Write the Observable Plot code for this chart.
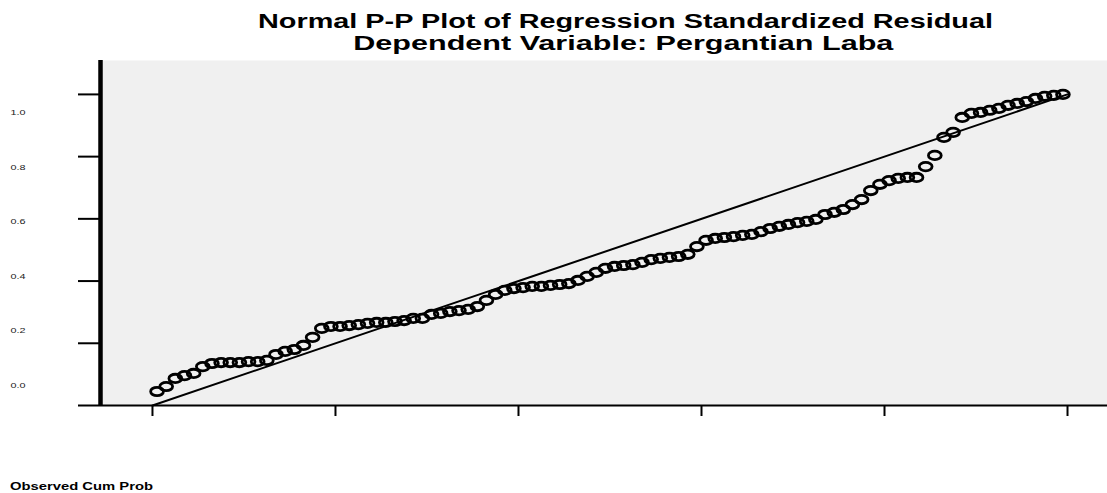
<!DOCTYPE html>
<html>
<head>
<meta charset="utf-8">
<script src="https://cdn.jsdelivr.net/npm/d3@7"></script>
<script src="https://cdn.jsdelivr.net/npm/@observablehq/plot@0.6"></script>
<style>
  html, body { margin: 0; padding: 0; background: #fff; }
  #wrap { position: relative; width: 1107px; height: 493px; overflow: hidden; font-family: "Liberation Sans", Arial, sans-serif; }
  .t { position: absolute; white-space: nowrap; font-weight: bold; color: #000; line-height: 1; }
  #chart { position: absolute; left: 0; top: 0; }
</style>
</head>
<body>
<div id="wrap">
  <div id="chart"></div>
  <div class="t" id="title1" style="font-size:19.5px; top:11.5px;">Normal P-P Plot of Regression Standardized Residual</div>
  <div class="t" id="title2" style="font-size:19.5px; top:33.5px;">Dependent Variable: Pergantian Laba</div>
  <div class="t" id="xlab" style="font-size:10.5px; top:481px; left:10px;">Observed Cum Prob</div>
</div>
<script>
// Observed cumulative probability (x) for each case
const observed = [
  0.005,0.015,0.025,0.035,0.045,0.055,0.065,0.075,0.085,0.095,
  0.105,0.115,0.125,0.135,0.145,0.155,0.165,0.175,0.185,0.195,
  0.205,0.215,0.225,0.235,0.245,0.255,0.265,0.275,0.285,0.295,
  0.305,0.315,0.325,0.335,0.345,0.355,0.365,0.375,0.385,0.395,
  0.405,0.415,0.425,0.435,0.445,0.455,0.465,0.475,0.485,0.495,
  0.505,0.515,0.525,0.535,0.545,0.555,0.565,0.575,0.585,0.595,
  0.605,0.615,0.625,0.635,0.645,0.655,0.665,0.675,0.685,0.695,
  0.705,0.715,0.725,0.735,0.745,0.755,0.765,0.775,0.785,0.795,
  0.805,0.815,0.825,0.835,0.845,0.855,0.865,0.875,0.885,0.895,
  0.905,0.915,0.925,0.935,0.945,0.955,0.965,0.975,0.985,0.995
];
// Expected cumulative probability (y)
const expected = [
  0.045,0.061,0.087,0.096,0.103,0.125,0.135,0.138,0.138,0.138,
  0.141,0.141,0.145,0.164,0.174,0.180,0.193,0.219,0.248,0.254,
  0.254,0.257,0.260,0.264,0.267,0.267,0.270,0.273,0.280,0.280,
  0.293,0.296,0.302,0.305,0.309,0.318,0.338,0.357,0.370,0.376,
  0.379,0.383,0.383,0.386,0.389,0.392,0.402,0.415,0.428,0.441,
  0.447,0.450,0.453,0.460,0.469,0.473,0.476,0.479,0.486,0.511,
  0.531,0.537,0.540,0.543,0.547,0.550,0.559,0.569,0.576,0.582,
  0.588,0.592,0.598,0.614,0.621,0.630,0.646,0.662,0.691,0.711,
  0.723,0.730,0.733,0.733,0.768,0.804,0.862,0.878,0.926,0.939,
  0.942,0.949,0.955,0.965,0.971,0.977,0.987,0.994,0.997,1.000
];
const xTicks = [0, 0.2, 0.4, 0.6, 0.8, 1.0];
const yTicks = [0, 0.2, 0.4, 0.6, 0.8, 1.0];
const yTickLabels = ["0.0", "0.2", "0.4", "0.6", "0.8", "1.0"];
const refLine = [0, 1];

const points = observed.map((o, i) => ({x: o, y: expected[i]}));
const xDomain = [-0.0568, 1.0437];
const yDomain = [0, 1.109];

// open ellipse symbol (stretched circle)
const ellipse = {
  draw(ctx) {
    const rx = 6.4, ry = 4.2, k = 0.5523, kx = rx * k, ky = ry * k;
    ctx.moveTo(rx, 0);
    ctx.bezierCurveTo(rx, ky, kx, ry, 0, ry);
    ctx.bezierCurveTo(-kx, ry, -rx, ky, -rx, 0);
    ctx.bezierCurveTo(-rx, -ky, -kx, -ry, 0, -ry);
    ctx.bezierCurveTo(kx, -ry, rx, -ky, rx, 0);
    ctx.closePath();
  }
};

// tick labels sit slightly off their ticks in the reference
const labelPos = v => 0.0643 + 0.878 * v;

const chart = Plot.plot({
  width: 1107,
  height: 493,
  marginTop: 60,
  marginBottom: 88,
  marginLeft: 100,
  marginRight: 0,
  style: {background: "transparent", fontFamily: "Liberation Sans, Arial, sans-serif"},
  x: {domain: xDomain, label: null},
  y: {domain: yDomain, label: null},
  marks: [
    Plot.frame({fill: "#f0f0f0", stroke: "none"}),
    Plot.axisX({ticks: xTicks, tickSize: 11, tickFormat: () => "", strokeWidth: 2, stroke: "#000", label: null}),
    Plot.axisY({ticks: yTicks, tickSize: 22, tickFormat: () => "", strokeWidth: 2, stroke: "#000", label: null}),
    Plot.ruleY([0], {stroke: "#000", strokeWidth: 2}),
    Plot.ruleX([xDomain[0]], {stroke: "#000", strokeWidth: 4.5}),
    Plot.line(refLine, {x: d => d, y: d => d, stroke: "#000", strokeWidth: 2}),
    Plot.dot(points, {x: "x", y: "y", r: 5, symbol: ellipse, stroke: "#000", strokeWidth: 2.8, fill: "none"}),
    Plot.text(yTicks, {x: xDomain[0], y: d => labelPos(d), text: (d, i) => yTickLabels[i], dx: -90, textAnchor: "start", fontSize: 8, fill: "#222"})
  ]
});
document.getElementById("chart").appendChild(chart);

// stretch tick labels horizontally like the reference
d3.select(chart).selectAll("g[aria-label='text'] text")
  .attr("textLength", 15).attr("lengthAdjust", "spacingAndGlyphs");

// stretch the HTML titles to match the reference widths
function fit(id, targetWidth, centerX, leftX) {
  const el = document.getElementById(id);
  const w = el.getBoundingClientRect().width;
  const s = targetWidth / w;
  if (centerX != null) {
    el.style.left = (centerX - w / 2) + "px";
    el.style.transformOrigin = "50% 50%";
  } else {
    el.style.left = leftX + "px";
    el.style.transformOrigin = "0 50%";
  }
  el.style.transform = `scaleX(${s})`;
}
fit("title1", 735, 625.5);
fit("title2", 540, 623);
fit("xlab", 143, null, 10);
</script>
</body>
</html>
